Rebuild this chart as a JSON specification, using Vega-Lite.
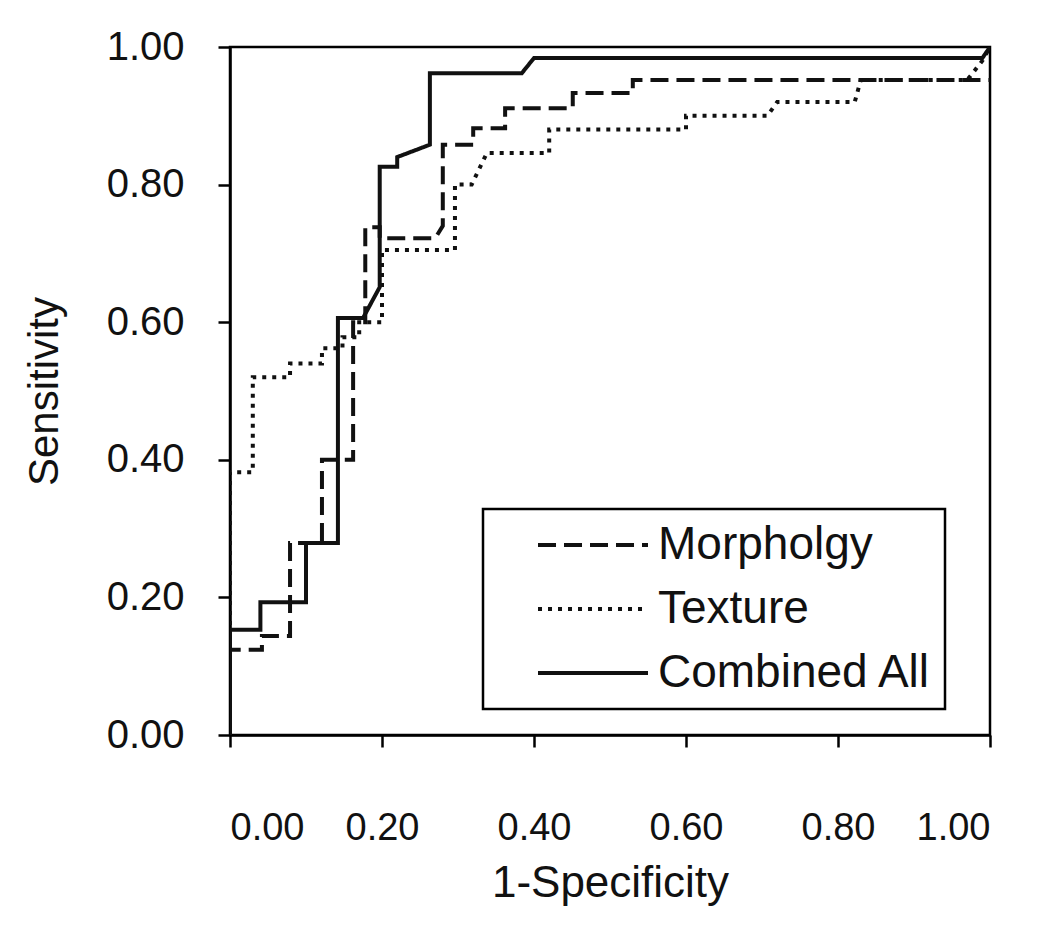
{
  "$schema": "https://vega.github.io/schema/vega-lite/v6.json",
  "width": 760,
  "height": 688,
  "autosize": "none",
  "padding": {"left": 230, "top": 47, "right": 60, "bottom": 214},
  "background": "white",
  "config": {
    "view": {"stroke": "black", "strokeWidth": 2.5},
    "axis": {"grid": false, "domainColor": "black", "domainWidth": 2.5, "tickColor": "black", "tickWidth": 2.5, "tickSize": 12, "labelColor": "#111", "titleColor": "#111", "titleFontWeight": "normal"}
  },
  "data": {"values": [
    {"s": "Combined All", "i": 1, "x": 0, "y": 0},
    {"s": "Combined All", "i": 2, "x": 0, "y": 0.153},
    {"s": "Combined All", "i": 3, "x": 0.04, "y": 0.153},
    {"s": "Combined All", "i": 4, "x": 0.04, "y": 0.193},
    {"s": "Combined All", "i": 5, "x": 0.10, "y": 0.193},
    {"s": "Combined All", "i": 6, "x": 0.10, "y": 0.279},
    {"s": "Combined All", "i": 7, "x": 0.142, "y": 0.279},
    {"s": "Combined All", "i": 8, "x": 0.142, "y": 0.606},
    {"s": "Combined All", "i": 9, "x": 0.175, "y": 0.606},
    {"s": "Combined All", "i": 10, "x": 0.197, "y": 0.651},
    {"s": "Combined All", "i": 11, "x": 0.197, "y": 0.826},
    {"s": "Combined All", "i": 12, "x": 0.22, "y": 0.826},
    {"s": "Combined All", "i": 13, "x": 0.22, "y": 0.84},
    {"s": "Combined All", "i": 14, "x": 0.263, "y": 0.858},
    {"s": "Combined All", "i": 15, "x": 0.263, "y": 0.962},
    {"s": "Combined All", "i": 16, "x": 0.384, "y": 0.962},
    {"s": "Combined All", "i": 17, "x": 0.40, "y": 0.984},
    {"s": "Combined All", "i": 18, "x": 0.99, "y": 0.984},
    {"s": "Combined All", "i": 19, "x": 1.0, "y": 1.0},

    {"s": "Morpholgy", "i": 1, "x": 0, "y": 0},
    {"s": "Morpholgy", "i": 2, "x": 0, "y": 0.124},
    {"s": "Morpholgy", "i": 3, "x": 0.042, "y": 0.124},
    {"s": "Morpholgy", "i": 4, "x": 0.042, "y": 0.144},
    {"s": "Morpholgy", "i": 5, "x": 0.079, "y": 0.144},
    {"s": "Morpholgy", "i": 6, "x": 0.079, "y": 0.279},
    {"s": "Morpholgy", "i": 7, "x": 0.121, "y": 0.279},
    {"s": "Morpholgy", "i": 8, "x": 0.121, "y": 0.40},
    {"s": "Morpholgy", "i": 9, "x": 0.162, "y": 0.40},
    {"s": "Morpholgy", "i": 10, "x": 0.162, "y": 0.60},
    {"s": "Morpholgy", "i": 11, "x": 0.178, "y": 0.60},
    {"s": "Morpholgy", "i": 12, "x": 0.178, "y": 0.738},
    {"s": "Morpholgy", "i": 13, "x": 0.197, "y": 0.738},
    {"s": "Morpholgy", "i": 14, "x": 0.197, "y": 0.722},
    {"s": "Morpholgy", "i": 15, "x": 0.27, "y": 0.722},
    {"s": "Morpholgy", "i": 16, "x": 0.28, "y": 0.74},
    {"s": "Morpholgy", "i": 17, "x": 0.28, "y": 0.858},
    {"s": "Morpholgy", "i": 18, "x": 0.32, "y": 0.858},
    {"s": "Morpholgy", "i": 19, "x": 0.32, "y": 0.882},
    {"s": "Morpholgy", "i": 20, "x": 0.362, "y": 0.882},
    {"s": "Morpholgy", "i": 21, "x": 0.362, "y": 0.911},
    {"s": "Morpholgy", "i": 22, "x": 0.451, "y": 0.911},
    {"s": "Morpholgy", "i": 23, "x": 0.451, "y": 0.933},
    {"s": "Morpholgy", "i": 24, "x": 0.53, "y": 0.933},
    {"s": "Morpholgy", "i": 25, "x": 0.53, "y": 0.952},
    {"s": "Morpholgy", "i": 26, "x": 1.0, "y": 0.952},

    {"s": "Texture", "i": 1, "x": 0, "y": 0},
    {"s": "Texture", "i": 2, "x": 0, "y": 0.382},
    {"s": "Texture", "i": 3, "x": 0.03, "y": 0.382},
    {"s": "Texture", "i": 4, "x": 0.03, "y": 0.52},
    {"s": "Texture", "i": 5, "x": 0.079, "y": 0.52},
    {"s": "Texture", "i": 6, "x": 0.079, "y": 0.54},
    {"s": "Texture", "i": 7, "x": 0.121, "y": 0.54},
    {"s": "Texture", "i": 8, "x": 0.121, "y": 0.562},
    {"s": "Texture", "i": 9, "x": 0.148, "y": 0.562},
    {"s": "Texture", "i": 10, "x": 0.148, "y": 0.578},
    {"s": "Texture", "i": 11, "x": 0.17, "y": 0.578},
    {"s": "Texture", "i": 12, "x": 0.17, "y": 0.60},
    {"s": "Texture", "i": 13, "x": 0.2, "y": 0.60},
    {"s": "Texture", "i": 14, "x": 0.2, "y": 0.705},
    {"s": "Texture", "i": 15, "x": 0.296, "y": 0.705},
    {"s": "Texture", "i": 16, "x": 0.296, "y": 0.80},
    {"s": "Texture", "i": 17, "x": 0.318, "y": 0.80},
    {"s": "Texture", "i": 18, "x": 0.338, "y": 0.846},
    {"s": "Texture", "i": 19, "x": 0.42, "y": 0.846},
    {"s": "Texture", "i": 20, "x": 0.42, "y": 0.88},
    {"s": "Texture", "i": 21, "x": 0.60, "y": 0.88},
    {"s": "Texture", "i": 22, "x": 0.60, "y": 0.90},
    {"s": "Texture", "i": 23, "x": 0.707, "y": 0.90},
    {"s": "Texture", "i": 24, "x": 0.72, "y": 0.92},
    {"s": "Texture", "i": 25, "x": 0.822, "y": 0.92},
    {"s": "Texture", "i": 26, "x": 0.83, "y": 0.952},
    {"s": "Texture", "i": 27, "x": 0.97, "y": 0.952},
    {"s": "Texture", "i": 28, "x": 0.99, "y": 0.98},
    {"s": "Texture", "i": 29, "x": 1.0, "y": 1.0}
  ]},
  "mark": {"type": "line", "interpolate": "linear", "clip": true},
  "encoding": {
    "x": {"field": "x", "type": "quantitative",
      "scale": {"domain": [0, 1], "nice": false, "zero": false},
      "axis": {"values": [0, 0.2, 0.4, 0.6, 0.8, 1.0], "format": ".2f", "title": "1-Specificity",
        "labelFont": "Liberation Sans", "labelFontSize": 38, "labelPadding": 62,
        "titleFont": "Liberation Sans", "titleFontSize": 44, "titlePadding": 14}},
    "y": {"field": "y", "type": "quantitative",
      "scale": {"domain": [0, 1], "nice": false, "zero": false},
      "axis": {"values": [0, 0.2, 0.4, 0.6, 0.8, 1.0], "format": ".2f", "title": "Sensitivity",
        "labelFont": "Liberation Sans", "labelFontSize": 40, "labelPadding": 34,
        "titleFont": "Liberation Sans", "titleFontSize": 42, "titlePadding": 40}},
    "order": {"field": "i", "type": "quantitative"},
    "color": {"field": "s", "type": "nominal",
      "scale": {"domain": ["Morpholgy", "Texture", "Combined All"], "range": ["#111", "#111", "#111"]},
      "legend": {"title": null, "orient": "none", "legendX": 253, "legendY": 462,
        "strokeColor": "black", "padding": 13, "fillColor": "white",
        "symbolType": "M-4,0H4", "symbolSize": 756, "symbolOffset": 74, "symbolStrokeColor": "#111",
        "labelFont": "Liberation Sans", "labelFontSize": 46, "labelColor": "#111", "labelOffset": 42,
        "rowPadding": 18, "labelLimit": 400,
        "encode": {"legend": {"update": {"strokeWidth": {"value": 2.5}}}}}},
    "strokeDash": {"field": "s", "type": "nominal",
      "scale": {"domain": ["Morpholgy", "Texture", "Combined All"], "range": [[18, 8], [4, 6], [1, 0]]}},
    "strokeWidth": {"field": "s", "type": "nominal",
      "scale": {"domain": ["Morpholgy", "Texture", "Combined All"], "range": [4, 4, 5]}}
  }
}
